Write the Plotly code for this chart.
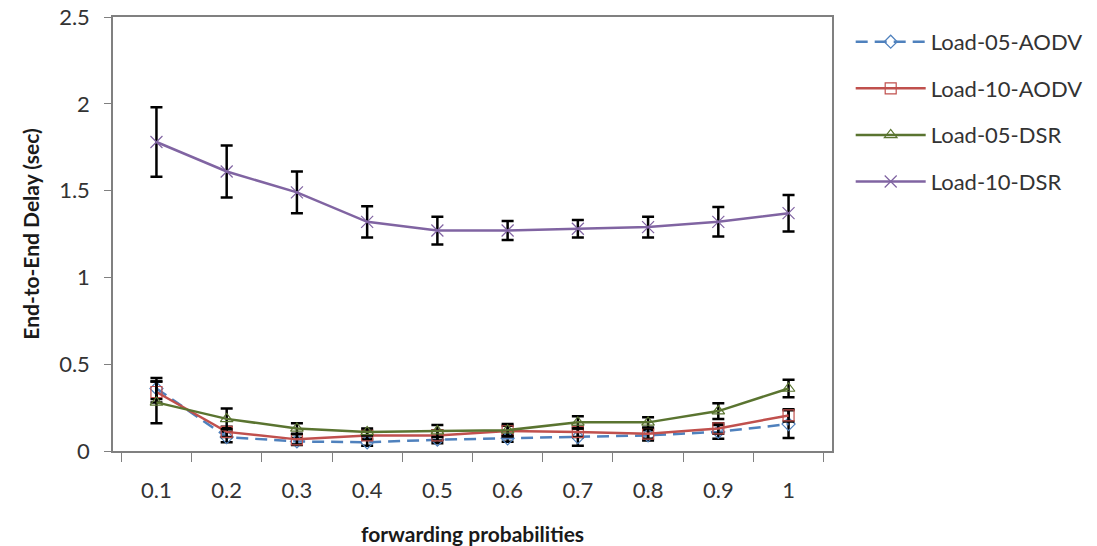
import plotly.graph_objects as go

categories = ["0.1", "0.2", "0.3", "0.4", "0.5", "0.6", "0.7", "0.8", "0.9", "1"]

aodv05 = [0.36, 0.08, 0.055, 0.05, 0.065, 0.073, 0.08, 0.09, 0.11, 0.155]
aodv05_err = [0.06, 0.03, 0.02, 0.02, 0.02, 0.02, 0.05, 0.03, 0.04, 0.08]

aodv10 = [0.34, 0.11, 0.067, 0.09, 0.09, 0.115, 0.11, 0.10, 0.13, 0.205]
aodv10_err = [0.06, 0.03, 0.03, 0.025, 0.03, 0.03, 0.03, 0.03, 0.03, 0.035]

dsr05 = [0.28, 0.185, 0.13, 0.11, 0.115, 0.12, 0.165, 0.165, 0.23, 0.36]
dsr05_err = [0.12, 0.06, 0.03, 0.02, 0.035, 0.035, 0.035, 0.03, 0.045, 0.05]

dsr10 = [1.78, 1.61, 1.49, 1.32, 1.27, 1.27, 1.28, 1.29, 1.32, 1.37]
dsr10_err = [0.20, 0.15, 0.12, 0.09, 0.08, 0.055, 0.05, 0.06, 0.085, 0.105]

series = [
    ("Load-05-AODV", aodv05, aodv05_err, "#4F81BD", "dash", "diamond-open", 10),
    ("Load-10-AODV", aodv10, aodv10_err, "#C0504D", "solid", "square-open", 11),
    ("Load-05-DSR", dsr05, dsr05_err, "#5A7430", "solid", "triangle-up-open", 11),
    ("Load-10-DSR", dsr10, dsr10_err, "#8064A2", "solid", "x-thin-open", 12),
]

FONT = "Lato, 'Open Sans', sans-serif"

fig = go.Figure()
for i, (name, vals, errs, color, dash, sym, size) in enumerate(series):
    fig.add_trace(go.Scatter(
        x=categories, y=vals, name=name, mode="lines+markers",
        line=dict(color=color, width=2.5, dash=("12px,7px" if dash == "dash" else "solid")),
        marker=dict(symbol=sym, size=size, color=color, line=dict(color=color, width=1.2)),
        error_y=dict(type="data", array=errs, visible=True, color="black",
                     thickness=2.5, width=6),
        legendgroup=f"g{i}",
    ))

fig.update_layout(
    width=1097, height=546,
    margin=dict(l=113, r=265, t=17, b=95, autoexpand=False),
    paper_bgcolor="white", plot_bgcolor="white",
    font=dict(family=FONT, size=22, color="#333333"),
    showlegend=True,
    legend=dict(x=1.026, xanchor="left", y=0.991, yanchor="top",
                font=dict(family=FONT, size=22, color="#333333"),
                tracegroupgap=15, itemwidth=70,
                bgcolor="rgba(0,0,0,0)"),
    xaxis=dict(
        type="category", categoryorder="array", categoryarray=categories,
        showline=True, linecolor="#808080", linewidth=1.5, mirror=True,
        ticks="outside", ticklen=9, tickcolor="#808080", tickson="boundaries",
        showgrid=False, zeroline=False, ticklabelstandoff=19,
        title=dict(text="<b>forwarding probabilities</b>", standoff=26,
                   font=dict(family=FONT, size=21, color="#1a1a1a")),
        tickfont=dict(family=FONT, size=22, color="#333333"),
    ),
    yaxis=dict(
        range=[0, 2.5], dtick=0.5,
        showline=True, linecolor="#808080", linewidth=1.5, mirror=True,
        ticks="outside", ticklen=7, tickcolor="#808080",
        showgrid=False, zeroline=False, ticklabelstandoff=10,
        title=dict(text="<b>End-to-End Delay (sec)</b>", standoff=14,
                   font=dict(family=FONT, size=21, color="#1a1a1a")),
        tickfont=dict(family=FONT, size=22, color="#333333"),
    ),
)

fig.write_html("out.html")
